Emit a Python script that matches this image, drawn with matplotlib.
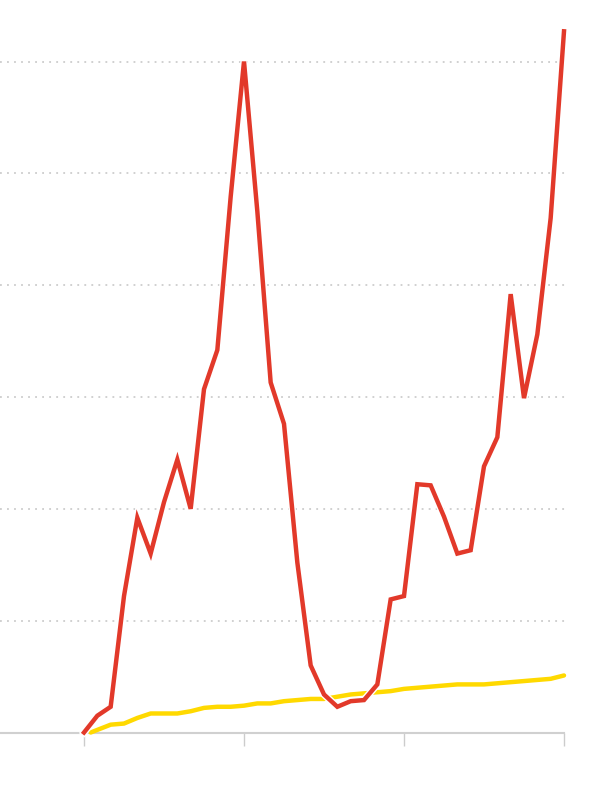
import matplotlib
matplotlib.use("Agg")
import matplotlib.pyplot as plt
import matplotlib.patheffects as pe

# monthly points, index 0..36
red_x = list(range(37))
red_vals = [0.0, 1.5, 2.3, 12.2, 19.2, 16.0, 20.6, 24.4, 20.0, 30.7,
            34.2, 47.9, 60.0, 46.6, 31.3, 27.6, 15.2, 6.0, 3.4, 2.3,
            2.8, 2.9, 4.3, 11.9, 12.2, 22.2, 22.1, 19.3, 16.0, 16.3,
            23.8, 26.4, 39.2, 29.9, 35.6, 46.0, 62.7]

yellow_x = [0.5] + list(range(2, 37))
yellow_vals = [0.0, 0.7, 0.8, 1.3, 1.7, 1.7, 1.7, 1.9, 2.2, 2.3,
               2.3, 2.4, 2.6, 2.6, 2.8, 2.9, 3.0, 3.0, 3.2, 3.4,
               3.5, 3.6, 3.7, 3.9, 4.0, 4.1, 4.2, 4.3, 4.3, 4.3,
               4.4, 4.5, 4.6, 4.7, 4.8, 5.1]

grid_vals = [10, 20, 30, 40, 50, 60]
tick_pos = [0, 12, 24, 36]

fig = plt.figure(figsize=(6, 8), dpi=100)
ax = fig.add_axes([0, 67.5 / 800, 564 / 600, 732.5 / 800])

ax.set_xlim(-6.3, 36)
ax.set_ylim(0, 65.5)

for g in grid_vals:
    ax.axhline(g, xmax=1.002, color="#c4c4c4", lw=1.1, ls=(0, (1.2, 3.4)),
               zorder=1, clip_on=False)

ax.plot(yellow_x, yellow_vals, color="#ffd900", lw=3.2,
        solid_capstyle="round", zorder=3, clip_on=False)
ax.plot(red_x, red_vals, color="#e2392a", lw=3.2, solid_joinstyle="miter",
        zorder=4, clip_on=False,
        path_effects=[pe.Stroke(linewidth=5.2, foreground="white"), pe.Normal()])

for s in ["top", "right", "left"]:
    ax.spines[s].set_visible(False)
ax.spines["bottom"].set_color("#d0d0d0")
ax.spines["bottom"].set_linewidth(1.5)
ax.spines["bottom"].set_zorder(2)

ax.set_yticks([])
ax.set_xticks(tick_pos)
ax.set_xticklabels([])
ax.tick_params(axis="x", length=9, width=1, color="#cccccc", direction="out")

fig.savefig("out.png", dpi=100)
